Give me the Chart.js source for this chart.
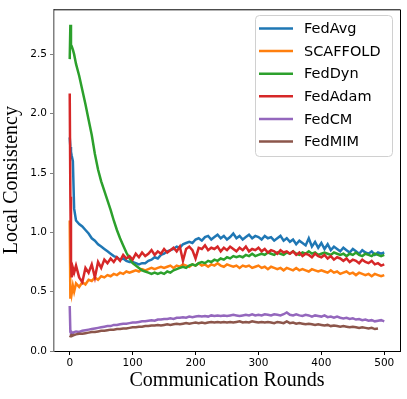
<!DOCTYPE html>
<html>
<head>
<meta charset="utf-8">
<script src="https://cdn.jsdelivr.net/npm/chart.js@4.4.0/dist/chart.umd.min.js"></script>
<style>
  body { margin: 0; background: #fff; }
  canvas { display: block; }
</style>
</head>
<body>
<canvas id="myChart" width="407" height="399"></canvas>
<script>
// communication rounds (x positions)
const rounds = [0, 1, 2, 3, 5, 7,
  10, 15, 20, 25, 30, 35, 40, 45, 50, 55, 60, 65, 70, 75, 80, 85, 90, 95, 100,
  105, 110, 115, 120, 125, 130, 135, 140, 145, 150, 155, 160, 165, 170, 175, 180, 185, 190, 195, 200,
  205, 210, 215, 220, 225, 230, 235, 240, 245, 250, 255, 260, 265, 270, 275, 280, 285, 290, 295, 300,
  305, 310, 315, 320, 325, 330, 335, 340, 345, 350, 355, 360, 365, 370, 375, 380, 385, 390, 395, 400,
  405, 410, 415, 420, 425, 430, 435, 440, 445, 450, 455, 460, 465, 470, 475, 480, 485, 490, 495, 500];

const fedAvg = [1.80, 1.72, 1.68, 1.65, 1.60, 1.20,
  1.10, 1.07, 1.05, 1.02, 0.99, 0.95, 0.93, 0.90, 0.88, 0.86, 0.84, 0.82, 0.80, 0.79, 0.77, 0.78, 0.76, 0.75, 0.75,
  0.74, 0.73, 0.74, 0.74, 0.76, 0.77, 0.79, 0.78, 0.81, 0.82, 0.84, 0.85, 0.86, 0.88, 0.87, 0.90, 0.91, 0.92, 0.91, 0.94,
  0.95, 0.93, 0.96, 0.97, 0.94, 0.96, 0.98, 0.95, 0.97, 0.94, 0.96, 0.99, 0.95, 0.97, 0.94, 0.96, 0.98, 0.95, 0.97, 0.96,
  0.94, 0.97, 0.95, 0.96, 0.93, 0.95, 0.97, 0.93, 0.95, 0.92, 0.94, 0.90, 0.93, 0.91, 0.89, 0.95, 0.88, 0.92, 0.87, 0.91,
  0.86, 0.90, 0.85, 0.88, 0.86, 0.84, 0.87, 0.85, 0.83, 0.86, 0.84, 0.82, 0.85, 0.83, 0.82, 0.84, 0.81, 0.83, 0.82, 0.83];

const scaffold = [1.10, 0.45, 0.52, 0.48, 0.55, 0.50,
  0.57, 0.54, 0.58, 0.56, 0.60, 0.59, 0.62, 0.60, 0.63, 0.62, 0.64, 0.63, 0.65, 0.64, 0.66, 0.65, 0.67, 0.66, 0.67,
  0.68, 0.67, 0.69, 0.68, 0.69, 0.70, 0.69, 0.70, 0.71, 0.70, 0.71, 0.72, 0.70, 0.72, 0.71, 0.73, 0.72, 0.71, 0.73, 0.72,
  0.74, 0.72, 0.73, 0.71, 0.73, 0.72, 0.74, 0.72, 0.71, 0.73, 0.72, 0.71, 0.72, 0.70, 0.72, 0.71, 0.72, 0.70, 0.71, 0.72,
  0.70, 0.71, 0.69, 0.71, 0.70, 0.69, 0.70, 0.68, 0.70, 0.69, 0.68, 0.70, 0.68, 0.69, 0.68, 0.67, 0.69, 0.68, 0.67, 0.68,
  0.67, 0.66, 0.68, 0.66, 0.67, 0.65, 0.66, 0.67, 0.65, 0.66, 0.64, 0.66, 0.65, 0.64, 0.65, 0.63, 0.65, 0.64, 0.63, 0.64];

const fedDyn = [2.46, 2.75, 2.58, 2.57, 2.54, 2.50,
  2.42, 2.32, 2.20, 2.08, 1.95, 1.82, 1.66, 1.53, 1.43, 1.35, 1.27, 1.19, 1.10, 1.02, 0.95, 0.89, 0.83, 0.78, 0.74,
  0.72, 0.70, 0.68, 0.67, 0.66, 0.65, 0.66, 0.65, 0.66, 0.65, 0.67, 0.66, 0.68, 0.69, 0.70, 0.71, 0.70, 0.72, 0.73, 0.72,
  0.74, 0.75, 0.74, 0.76, 0.75, 0.77, 0.76, 0.78, 0.77, 0.79, 0.78, 0.80, 0.79, 0.80, 0.79, 0.81, 0.80, 0.82, 0.80, 0.81,
  0.82, 0.81, 0.83, 0.82, 0.81, 0.83, 0.82, 0.81, 0.83, 0.82, 0.84, 0.82, 0.81, 0.83, 0.82, 0.84, 0.82, 0.83, 0.81, 0.82,
  0.83, 0.82, 0.81, 0.83, 0.82, 0.81, 0.82, 0.80, 0.82, 0.81, 0.83, 0.81, 0.80, 0.82, 0.81, 0.80, 0.82, 0.81, 0.80, 0.81];

const fedAdam = [2.17, 1.30, 0.75, 0.62, 0.70, 0.66,
  0.72, 0.62, 0.58, 0.70, 0.66, 0.73, 0.62, 0.75, 0.70, 0.77, 0.74, 0.78, 0.75, 0.79, 0.76, 0.81, 0.78, 0.80, 0.77,
  0.82, 0.79, 0.83, 0.80, 0.82, 0.85, 0.81, 0.84, 0.82, 0.86, 0.83, 0.85, 0.87, 0.84, 0.88, 0.76, 0.86, 0.88, 0.85, 0.78,
  0.87, 0.86, 0.89, 0.85, 0.87, 0.86, 0.88, 0.84, 0.87, 0.85, 0.88, 0.86, 0.84, 0.87, 0.85, 0.88, 0.84, 0.86, 0.85, 0.87,
  0.84, 0.86, 0.83, 0.85, 0.84, 0.82, 0.85, 0.83, 0.84, 0.82, 0.84, 0.81, 0.83, 0.80, 0.82, 0.81, 0.79, 0.82, 0.80, 0.79,
  0.81, 0.78, 0.80, 0.77, 0.79, 0.78, 0.76, 0.78, 0.75, 0.77, 0.76, 0.74, 0.77, 0.75, 0.74, 0.76, 0.73, 0.74, 0.72, 0.73];

const fedCM = [0.38, 0.16, 0.155, 0.16, 0.15, 0.16,
  0.165, 0.16, 0.17, 0.175, 0.18, 0.185, 0.19, 0.195, 0.20, 0.205, 0.21, 0.21, 0.22, 0.22, 0.225, 0.23, 0.23, 0.235, 0.24,
  0.24, 0.245, 0.25, 0.25, 0.255, 0.26, 0.255, 0.265, 0.265, 0.27, 0.27, 0.275, 0.27, 0.28, 0.28, 0.285, 0.28, 0.29, 0.285, 0.29,
  0.295, 0.29, 0.295, 0.29, 0.30, 0.295, 0.30, 0.295, 0.30, 0.295, 0.30, 0.305, 0.30, 0.295, 0.30, 0.305, 0.30, 0.31, 0.30, 0.305,
  0.30, 0.31, 0.305, 0.30, 0.31, 0.305, 0.30, 0.31, 0.325, 0.305, 0.30, 0.31, 0.30, 0.295, 0.305, 0.30, 0.29, 0.30, 0.295, 0.29,
  0.30, 0.285, 0.29, 0.28, 0.29, 0.28, 0.275, 0.28, 0.27, 0.275, 0.265, 0.27, 0.26, 0.265, 0.255, 0.26, 0.25, 0.255, 0.26, 0.25];

const fedMIM = [0.13, 0.125, 0.13, 0.135, 0.13, 0.135,
  0.14, 0.145, 0.145, 0.15, 0.155, 0.16, 0.16, 0.165, 0.17, 0.17, 0.175, 0.18, 0.18, 0.185, 0.185, 0.19, 0.19, 0.195, 0.20,
  0.20, 0.205, 0.205, 0.21, 0.21, 0.215, 0.215, 0.22, 0.215, 0.22, 0.225, 0.22, 0.225, 0.23, 0.225, 0.23, 0.235, 0.23, 0.235, 0.24,
  0.235, 0.24, 0.235, 0.24, 0.245, 0.24, 0.245, 0.24, 0.245, 0.24, 0.245, 0.24, 0.245, 0.25, 0.24, 0.245, 0.24, 0.25, 0.245, 0.24,
  0.245, 0.24, 0.245, 0.24, 0.235, 0.245, 0.24, 0.235, 0.25, 0.235, 0.24, 0.23, 0.235, 0.23, 0.225, 0.23, 0.225, 0.22, 0.225, 0.22,
  0.215, 0.22, 0.21, 0.215, 0.21, 0.205, 0.21, 0.205, 0.20, 0.205, 0.20, 0.195, 0.20, 0.195, 0.19, 0.195, 0.185, 0.19];

const seriesNames = ['FedAvg', 'SCAFFOLD', 'FedDyn', 'FedAdam', 'FedCM', 'FedMIM'];
const seriesValues = [fedAvg, scaffold, fedDyn, fedAdam, fedCM, fedMIM];
const colors = ['#1f77b4', '#ff7f0e', '#2ca02c', '#d62728', '#9467bd', '#8c564b'];

const xTicks = [0, 100, 200, 300, 400, 500];
const yTicks = [0, 0.5, 1.0, 1.5, 2.0, 2.5];

const tickFont = { family: 'DejaVu Sans', size: 10.5 };
const titleFont = { family: 'Liberation Serif', size: 20 };

const datasets = seriesNames.map((name, i) => ({
  label: name,
  data: seriesValues[i].map((v, j) => ({ x: rounds[j], y: v })),
  borderColor: colors[i],
  backgroundColor: colors[i],
  borderWidth: 2.5,
  pointRadius: 0,
  tension: 0,
  fill: false,
  order: seriesNames.length - 1 - i
}));

// legend box + top/right spines
const extras = {
  id: 'extras',
  afterDraw(chart) {
    const c = chart.ctx;
    const a = chart.chartArea;
    c.save();
    c.strokeStyle = '#000';
    c.lineWidth = 1;
    c.beginPath();
    c.moveTo(a.left, a.top + 0.5);
    c.lineTo(a.right + 0.5, a.top + 0.5);
    c.lineTo(a.right + 0.5, a.bottom);
    c.stroke();

    const bx = 255, by = 15, bw = 137, bh = 141;
    c.beginPath();
    c.roundRect(bx + 0.5, by + 0.5, bw, bh, 4);
    c.fillStyle = 'rgba(255,255,255,0.8)';
    c.fill();
    c.strokeStyle = '#d0d0d0';
    c.stroke();

    c.font = '14.5px "DejaVu Sans"';
    c.textBaseline = 'middle';
    c.textAlign = 'left';
    seriesNames.forEach((name, i) => {
      const y = 28.5 + i * 22.6;
      c.strokeStyle = colors[i];
      c.lineWidth = 2.5;
      c.beginPath();
      c.moveTo(259, y);
      c.lineTo(293, y);
      c.stroke();
      c.fillStyle = '#000';
      c.fillText(name, 304, y + 1);
    });
    c.restore();
  }
};

const ctx = document.getElementById('myChart');
new Chart(ctx, {
  type: 'line',
  data: { datasets },
  options: {
    responsive: false,
    animation: false,
    layout: { padding: { top: 7, right: 7, left: 0, bottom: 0 } },
    plugins: { legend: { display: false }, tooltip: { enabled: false } },
    scales: {
      x: {
        type: 'linear',
        min: -25,
        max: 525,
        afterBuildTicks: s => { s.ticks = xTicks.map(v => ({ value: v })); },
        afterFit: s => { s.height = 48; },
        ticks: { font: tickFont, color: '#000', padding: 2, maxRotation: 0, callback: v => String(v) },
        grid: { drawOnChartArea: false, drawTicks: true, tickLength: 4, color: '#000' },
        border: { color: '#000', width: 1 },
        title: { display: true, text: 'Communication Rounds', font: titleFont, color: '#000', padding: { top: 0, bottom: 6 } }
      },
      y: {
        type: 'linear',
        min: 0,
        max: 2.88,
        afterBuildTicks: s => { s.ticks = yTicks.map(v => ({ value: v })); },
        afterFit: s => { s.width = 54; },
        ticks: { font: tickFont, color: '#000', padding: 3, callback: v => v.toFixed(1) },
        grid: { drawOnChartArea: false, drawTicks: true, tickLength: 4, color: '#808080' },
        border: { color: '#808080', width: 1.5 },
        title: { display: true, text: 'Local Consistency', font: titleFont, color: '#000', padding: { top: 0, bottom: 0 } }
      }
    }
  },
  plugins: [extras]
});
</script>
</body>
</html>
